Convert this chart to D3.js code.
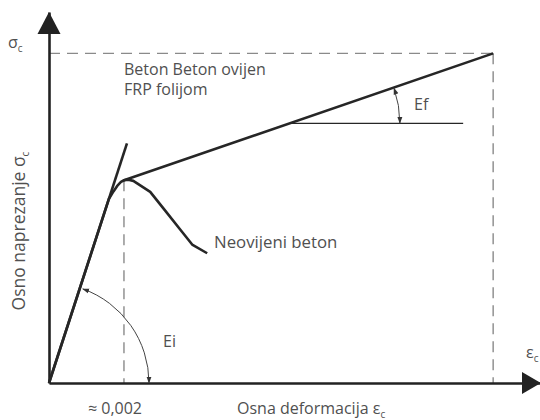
<!DOCTYPE html>
<html>
<head>
<meta charset="utf-8">
<script src="https://d3js.org/d3.v7.min.js"></script>
<style>
  body { margin: 0; background: #fff; }
  svg text { font-family: "Open Sans", Roboto, sans-serif; fill: #505050; }
</style>
</head>
<body>
<svg width="540" height="420"></svg>
<script>
// strain (x) and normalised stress (y, unconfined peak = 1)
var peakStrain = 0.002;
var ultStrain = 0.01185;
var ultStress = 1.626;

var initialLine = [[0, 0], [0.00208, 1.182]];
var confined = [[0, 0], [0.0016, 0.909], [0.00172, 0.945], [0.00182, 0.972], [0.00192, 0.992], [0.002, 1.0], [ultStrain, ultStress]];
var unconfined = [[0.002, 1.0], [0.00212, 1.003], [0.00225, 0.997], [0.0027, 0.943], [0.0031, 0.85], [0.0035, 0.757], [0.00382, 0.683], [0.00422, 0.640]];
var efRef = [[0.00648, 1.281], [0.01105, 1.281]];

var svg = d3.select('svg');
var x = d3.scaleLinear().domain([0, 0.0131]).range([49, 540]);
var y = d3.scaleLinear().domain([0, 1.83]).range([383, 12]);

var line = d3.line().x(d => x(d[0])).y(d => y(d[1]));

var defs = svg.append('defs');
defs.append('marker').attr('id', 'tip')
  .attr('viewBox', '0 0 10 10').attr('refX', 9).attr('refY', 5)
  .attr('markerWidth', 7).attr('markerHeight', 7).attr('markerUnits', 'userSpaceOnUse')
  .attr('orient', 'auto-start-reverse')
  .append('path').attr('d', 'M0,1.5L10,5L0,8.5Z').attr('fill', '#333');

// dashed guides
var dash = svg.append('g').attr('stroke', '#8a8a8a').attr('stroke-width', 1.4)
  .attr('stroke-dasharray', '11,7').attr('fill', 'none');
dash.append('line').attr('x1', x(0)).attr('x2', x(ultStrain)).attr('y1', y(ultStress)).attr('y2', y(ultStress));
dash.append('line').attr('x1', x(ultStrain)).attr('x2', x(ultStrain)).attr('y1', y(ultStress)).attr('y2', y(0));
dash.append('line').attr('x1', x(peakStrain)).attr('x2', x(peakStrain)).attr('y1', y(1.0)).attr('y2', y(0));

// axes
svg.append('g').attr('transform', 'translate(0,' + y(0) + ')')
  .call(d3.axisBottom(x).tickValues([]).tickSizeOuter(0));
svg.append('g').attr('transform', 'translate(' + x(0) + ',0)')
  .call(d3.axisLeft(y).tickValues([]).tickSizeOuter(0));
svg.selectAll('.domain').attr('stroke', '#222').attr('stroke-width', 2.6);
svg.append('path').attr('fill', '#222')
  .attr('d', 'M' + x(0) + ',' + y(1.83) + 'l-11.5,22l23,0Z');
svg.append('path').attr('fill', '#222')
  .attr('d', 'M' + (x(0.0131) + 1) + ',' + y(0) + 'l-19,-11l0,22Z');

// curves
var curves = svg.append('g').attr('fill', 'none').attr('stroke', '#262626').attr('stroke-width', 2.6)
  .attr('stroke-linejoin', 'round');
curves.append('path').attr('d', line(initialLine));
curves.append('path').attr('d', line(confined));
curves.append('path').attr('d', line(unconfined));
svg.append('path').attr('d', line(efRef)).attr('stroke', '#262626').attr('stroke-width', 1.3).attr('fill', 'none');

// angle arcs
function angleArc(cx, cy, r, a0, a1) {
  var p = d3.path();
  p.arc(cx, cy, r, -a0, -a1, true);
  return p.toString();
}
var iAng = Math.atan2(y(0) - y(initialLine[1][1]), x(initialLine[1][0]) - x(0));
svg.append('path').attr('d', angleArc(x(0), y(0), 100, 0, iAng - 0.03))
  .attr('fill', 'none').attr('stroke', '#444').attr('stroke-width', 1)
  .attr('marker-start', 'url(#tip)').attr('marker-end', 'url(#tip)');
var fAng = Math.atan2(y(1.0) - y(ultStress), x(ultStrain) - x(peakStrain));
svg.append('path').attr('d', angleArc(x(efRef[0][0]), y(efRef[0][1]), 108, 0, fAng))
  .attr('fill', 'none').attr('stroke', '#444').attr('stroke-width', 1)
  .attr('marker-start', 'url(#tip)').attr('marker-end', 'url(#tip)');

// labels
function sub(t, main, s) {
  t.append('tspan').text(main);
  t.append('tspan').text(s).attr('font-size', 10).attr('dy', 4);
}
var fs = 16;
sub(svg.append('text').attr('x', 8).attr('y', 48).attr('font-size', fs), 'σ', 'c');
svg.append('text').attr('x', 124).attr('y', 75).attr('font-size', fs).text('Beton Beton ovijen');
svg.append('text').attr('x', 124).attr('y', 95).attr('font-size', fs).text('FRP folijom');
svg.append('text').attr('x', 414).attr('y', 110).attr('font-size', fs).text('Ef');
svg.append('text').attr('x', 214).attr('y', 248).attr('font-size', 16.8).text('Neovijeni beton');
svg.append('text').attr('x', 163).attr('y', 347).attr('font-size', fs).text('Ei');
sub(svg.append('text').attr('transform', 'translate(25,231) rotate(-90)').attr('text-anchor', 'middle')
  .attr('font-size', 17.5), 'Osno naprezanje σ', 'c');
svg.append('text').attr('x', 115).attr('y', 414).attr('text-anchor', 'middle').attr('font-size', fs).text('≈ 0,002');
sub(svg.append('text').attr('x', 237).attr('y', 414).attr('font-size', fs), 'Osna deformacija ε', 'c');
sub(svg.append('text').attr('x', 526).attr('y', 358).attr('font-size', fs), 'ε', 'c');
</script>
</body>
</html>
